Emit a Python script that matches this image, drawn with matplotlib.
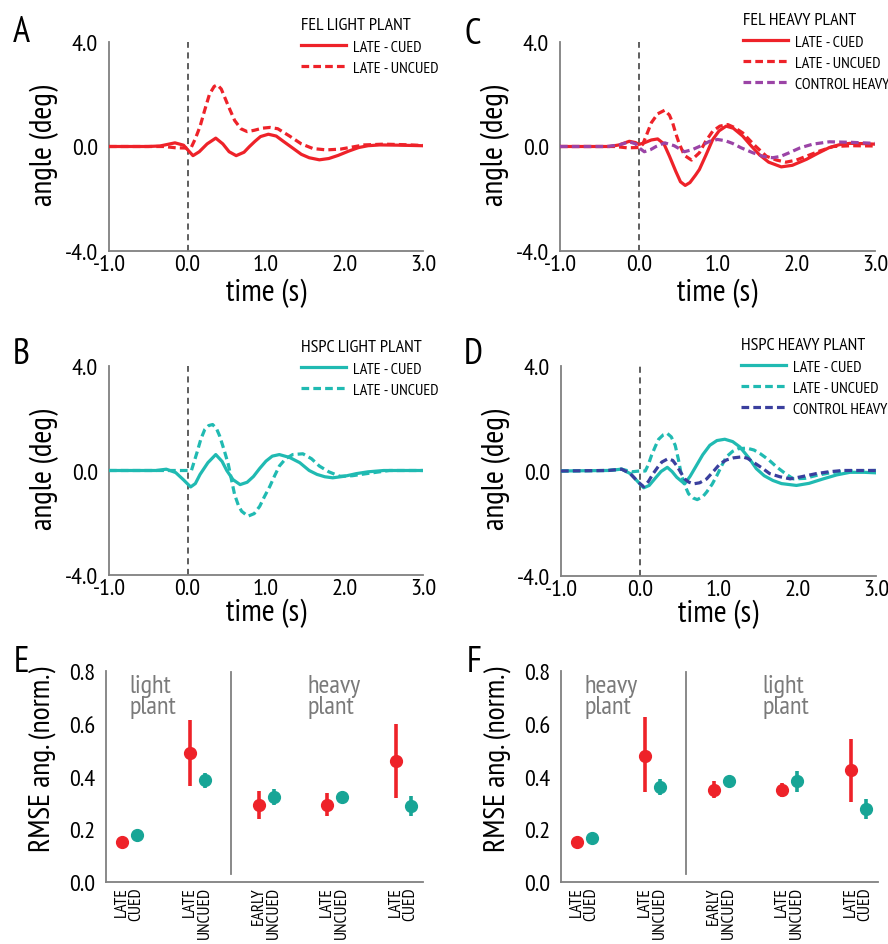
import matplotlib
matplotlib.use("Agg")
import matplotlib.pyplot as plt
from matplotlib import font_manager as fm
import numpy as np

_avail = {f.name for f in fm.fontManager.ttflist}
FONT = 'DejaVu Sans'
for cand in ['PT Sans Narrow', 'Roboto Condensed', 'Fira Sans Condensed', 'Open Sans Condensed',
             'Archivo Narrow', 'Encode Sans Condensed', 'Liberation Sans Narrow',
             'Barlow Semi Condensed', 'Asap Condensed', 'IBM Plex Sans Condensed']:
    if cand in _avail:
        FONT = cand
        break
plt.rcParams['font.family'] = [FONT, 'DejaVu Sans']

# ---------------- data ----------------
A_t_cued = [-1.0, -0.5, -0.35, -0.16, -0.05, 0.0, 0.07, 0.15, 0.25, 0.36, 0.45, 0.53, 0.62, 0.72, 0.79, 0.86, 0.93, 1.03, 1.13, 1.22, 1.34, 1.45, 1.55, 1.68, 1.8, 1.92, 2.05, 2.18, 2.3, 2.45, 2.7, 3.0]
A_cued = [0, 0, 0.02, 0.14, 0.05, -0.12, -0.35, -0.2, 0.1, 0.32, 0.1, -0.2, -0.35, -0.22, 0.0, 0.2, 0.38, 0.47, 0.4, 0.2, -0.06, -0.3, -0.43, -0.51, -0.46, -0.34, -0.18, -0.04, 0.03, 0.06, 0.05, 0.03]
A_t_uncued = [-1.0, -0.3, -0.15, 0.0, 0.05, 0.1, 0.16, 0.22, 0.28, 0.34, 0.38, 0.43, 0.52, 0.6, 0.68, 0.76, 0.85, 0.95, 1.05, 1.15, 1.3, 1.45, 1.6, 1.77, 1.95, 2.1, 2.25, 2.5, 2.75, 3.0]
A_uncued = [0, 0, -0.05, -0.06, -0.02, 0.3, 0.77, 1.4, 2.0, 2.3, 2.36, 2.2, 1.55, 1.0, 0.68, 0.57, 0.62, 0.7, 0.73, 0.68, 0.4, 0.1, -0.08, -0.13, -0.1, -0.02, 0.06, 0.09, 0.07, 0.04]

B_t_cued = [-1.0, -0.4, -0.27, -0.15, -0.05, 0.04, 0.1, 0.16, 0.26, 0.36, 0.44, 0.5, 0.58, 0.67, 0.76, 0.84, 0.92, 1.0, 1.08, 1.17, 1.3, 1.43, 1.55, 1.65, 1.75, 1.85, 2.0, 2.15, 2.3, 2.5, 3.0]
B_cued = [0, 0, 0.05, -0.08, -0.36, -0.63, -0.5, -0.15, 0.3, 0.61, 0.35, 0.0, -0.35, -0.54, -0.45, -0.23, 0.08, 0.36, 0.55, 0.61, 0.5, 0.3, 0.0, -0.15, -0.24, -0.28, -0.22, -0.12, -0.05, 0.0, 0.0]
B_t_uncued = [-1.0, 0.0, 0.05, 0.12, 0.17, 0.22, 0.27, 0.32, 0.37, 0.41, 0.47, 0.52, 0.56, 0.6, 0.65, 0.69, 0.77, 0.85, 0.92, 0.98, 1.05, 1.11, 1.17, 1.25, 1.34, 1.47, 1.58, 1.68, 1.8, 1.94, 2.1, 2.28, 2.57, 3.0]
B_uncued = [0, 0, 0.0, 0.68, 1.2, 1.57, 1.72, 1.76, 1.6, 1.32, 0.75, 0.23, -0.35, -0.92, -1.35, -1.56, -1.75, -1.65, -1.37, -1.0, -0.6, -0.2, 0.17, 0.45, 0.61, 0.64, 0.45, 0.17, -0.05, -0.22, -0.2, -0.12, 0.0, 0.0]

C_t_cued = [-1.0, -0.37, -0.25, -0.12, -0.04, 0.0, 0.07, 0.16, 0.24, 0.32, 0.39, 0.47, 0.53, 0.59, 0.65, 0.72, 0.77, 0.85, 0.94, 1.02, 1.11, 1.2, 1.32, 1.42, 1.53, 1.65, 1.81, 1.95, 2.13, 2.28, 2.42, 2.55, 2.68, 2.85, 3.0]
C_cued = [0, 0, 0.06, 0.2, 0.15, 0.08, 0.14, 0.25, 0.29, 0.1, -0.37, -0.95, -1.35, -1.49, -1.38, -1.1, -0.88, -0.35, 0.27, 0.6, 0.78, 0.7, 0.4, 0.05, -0.31, -0.6, -0.78, -0.72, -0.49, -0.25, -0.04, 0.07, 0.12, 0.11, 0.09]
C_t_uncued = [-1.0, -0.3, -0.15, 0.0, 0.05, 0.1, 0.16, 0.24, 0.33, 0.39, 0.43, 0.47, 0.51, 0.58, 0.67, 0.77, 0.85, 0.94, 1.03, 1.13, 1.22, 1.32, 1.47, 1.62, 1.75, 1.87, 2.0, 2.13, 2.3, 2.47, 2.7, 3.0]
C_uncued = [0, 0, -0.05, -0.04, 0.08, 0.45, 0.91, 1.25, 1.39, 1.2, 0.91, 0.5, 0.14, -0.34, -0.52, -0.24, 0.2, 0.59, 0.78, 0.84, 0.72, 0.52, 0.05, -0.37, -0.52, -0.6, -0.52, -0.37, -0.17, 0.0, 0.03, 0.02]
C_t_control = [-1.0, -0.4, -0.25, -0.12, -0.04, 0.0, 0.07, 0.15, 0.22, 0.33, 0.45, 0.58, 0.68, 0.77, 0.9, 1.0, 1.1, 1.19, 1.3, 1.45, 1.58, 1.7, 1.8, 1.91, 2.05, 2.21, 2.42, 2.7, 3.0]
C_control = [0, 0, 0.06, 0.18, 0.1, -0.04, -0.2, -0.12, 0.0, 0.14, 0.03, -0.2, -0.12, 0.0, 0.2, 0.27, 0.22, 0.12, -0.05, -0.24, -0.38, -0.43, -0.38, -0.24, -0.05, 0.09, 0.18, 0.16, 0.12]

D_t_cued = [-1.0, -0.4, -0.23, -0.12, -0.02, 0.05, 0.12, 0.19, 0.27, 0.35, 0.41, 0.47, 0.57, 0.64, 0.72, 0.8, 0.89, 0.98, 1.08, 1.18, 1.27, 1.38, 1.48, 1.58, 1.69, 1.8, 1.99, 2.15, 2.33, 2.5, 2.67, 2.85, 3.0]
D_cued = [0, 0.02, 0.07, -0.1, -0.42, -0.64, -0.55, -0.3, -0.02, 0.14, -0.02, -0.24, -0.49, -0.2, 0.21, 0.62, 0.98, 1.16, 1.21, 1.12, 0.92, 0.52, 0.09, -0.18, -0.36, -0.48, -0.55, -0.47, -0.3, -0.15, -0.05, -0.05, -0.07]
D_t_uncued = [-1.0, -0.4, -0.23, -0.1, 0.0, 0.07, 0.11, 0.15, 0.2, 0.24, 0.3, 0.35, 0.4, 0.45, 0.49, 0.53, 0.58, 0.62, 0.68, 0.73, 0.8, 0.85, 0.92, 0.98, 1.04, 1.1, 1.18, 1.25, 1.36, 1.45, 1.53, 1.64, 1.74, 1.85, 1.95, 2.1, 2.24, 2.4, 2.58, 3.0]
D_uncued = [0, 0.02, 0.07, -0.03, 0.0, 0.0, 0.25, 0.6, 0.95, 1.21, 1.38, 1.43, 1.3, 0.98, 0.45, -0.17, -0.6, -0.87, -1.03, -1.09, -0.98, -0.8, -0.5, -0.17, 0.2, 0.54, 0.75, 0.85, 0.87, 0.8, 0.66, 0.42, 0.15, -0.1, -0.3, -0.28, -0.17, -0.08, 0.0, 0.02]
D_t_control = [-1.0, -0.4, -0.23, -0.12, -0.02, 0.05, 0.11, 0.17, 0.23, 0.28, 0.36, 0.42, 0.47, 0.52, 0.57, 0.62, 0.68, 0.76, 0.85, 0.94, 1.02, 1.1, 1.19, 1.3, 1.37, 1.44, 1.55, 1.65, 1.78, 1.91, 2.05, 2.24, 2.4, 2.58, 3.0]
D_control = [0, 0.02, 0.07, -0.1, -0.42, -0.6, -0.4, -0.1, 0.15, 0.34, 0.47, 0.4, 0.2, -0.05, -0.3, -0.42, -0.49, -0.45, -0.3, 0.0, 0.28, 0.42, 0.5, 0.54, 0.48, 0.34, 0.12, -0.1, -0.22, -0.3, -0.22, -0.1, -0.03, 0.02, 0.02]

cat_labels = ['LATE\nCUED', 'LATE\nUNCUED', 'EARLY\nUNCUED', 'LATE\nUNCUED', 'LATE\nCUED']

E_red = [0.15, 0.489, 0.292, 0.292, 0.46]
E_red_lo = [0.15, 0.364, 0.239, 0.25, 0.32]
E_red_hi = [0.15, 0.616, 0.345, 0.336, 0.60]
E_teal = [0.178, 0.387, 0.324, 0.324, 0.29]
E_teal_lo = [0.178, 0.356, 0.292, 0.311, 0.251]
E_teal_hi = [0.178, 0.415, 0.353, 0.336, 0.325]

F_red = [0.15, 0.476, 0.349, 0.349, 0.423]
F_red_lo = [0.15, 0.34, 0.317, 0.324, 0.305]
F_red_hi = [0.15, 0.626, 0.383, 0.377, 0.542]
F_teal = [0.165, 0.362, 0.383, 0.383, 0.277]
F_teal_lo = [0.165, 0.33, 0.371, 0.343, 0.239]
F_teal_hi = [0.165, 0.391, 0.394, 0.422, 0.314]

# ---------------- style ----------------
RED = '#ee2229'
TEAL = '#20bab2'
TEAL_M = '#17a596'
PURPLE = '#9b44a6'
NAVY = '#3a3f9e'
SPINE = '#808080'
GRAYTXT = '#7a7a7a'

W, H = 888, 945
fig = plt.figure(figsize=(W / 100, H / 100), dpi=100)


def add_ax(l, t, r, b):
    return fig.add_axes([l / W, 1 - b / H, (r - l) / W, (b - t) / H])


def style(ax):
    for s in ['top', 'right']:
        ax.spines[s].set_visible(False)
    for s in ['left', 'bottom']:
        ax.spines[s].set_color(SPINE)
        ax.spines[s].set_linewidth(1.3)
    ax.tick_params(length=0, labelsize=17.5)


DASH = (0, (2.4, 1.3))
LW = 2.3


def time_panel(ax, series, title, legend_pos, xlab_y):
    style(ax)
    ax.axvline(0, color='#333333', lw=1.1, ls=(0, (4, 3)), zorder=1)
    handles = []
    for t, v, c, ls, lab in series:
        h, = ax.plot(t, v, color=c, lw=LW, ls=ls, label=lab,
                     solid_joinstyle='round', dash_joinstyle='round', zorder=3)
        handles.append(h)
    ax.set_xlim(-1, 3)
    ax.set_ylim(-4, 4)
    ax.set_xticks([-1, 0, 1, 2, 3])
    ax.set_xticklabels(['-1.0', '0.0', '1.0', '2.0', '3.0'])
    ax.set_yticks([-4, 0, 4])
    ax.set_yticklabels(['-4.0', '0.0', '4.0'])
    ax.tick_params(axis='y', pad=8)
    ax.tick_params(axis='x', pad=2)
    ax.set_xlabel('time (s)', fontsize=22.5)
    ax.xaxis.label.set_va('center')
    ax.xaxis.set_label_coords(0.5, xlab_y)
    ax.set_ylabel('angle (deg)', fontsize=22.5)
    ax.yaxis.label.set_va('center')
    ax.yaxis.set_label_coords(-0.205, 0.51)
    ax.legend(handles=handles, title=title, loc='upper left',
              bbox_to_anchor=(legend_pos[0] / W, 1 - legend_pos[1] / H),
              bbox_transform=fig.transFigure, frameon=False,
              fontsize=11.5, title_fontsize=13, alignment='left',
              handlelength=2.8, handletextpad=0.45, labelspacing=0.42,
              borderpad=0, borderaxespad=0)
    return ax


axA = add_ax(109, 43, 423, 252)
time_panel(axA, [(A_t_cued, A_cued, RED, '-', 'LATE - CUED'),
                 (A_t_uncued, A_uncued, RED, DASH, 'LATE - UNCUED')],
           'FEL LIGHT PLANT', (301, 18), -0.2)

axC = add_ax(560, 43, 875, 252)
time_panel(axC, [(C_t_cued, C_cued, RED, '-', 'LATE - CUED'),
                 (C_t_uncued, C_uncued, RED, DASH, 'LATE - UNCUED'),
                 (C_t_control, C_control, PURPLE, DASH, 'CONTROL HEAVY')],
           'FEL HEAVY PLANT', (743, 13), -0.2)

axB = add_ax(109, 367, 423, 576)
time_panel(axB, [(B_t_cued, B_cued, TEAL, '-', 'LATE - CUED'),
                 (B_t_uncued, B_uncued, TEAL, DASH, 'LATE - UNCUED')],
           'HSPC LIGHT PLANT', (301, 340), -0.18)

axD = add_ax(561, 367, 876, 577)
time_panel(axD, [(D_t_cued, D_cued, TEAL, '-', 'LATE - CUED'),
                 (D_t_uncued, D_uncued, TEAL, DASH, 'LATE - UNCUED'),
                 (D_t_control, D_control, NAVY, DASH, 'CONTROL HEAVY')],
           'HSPC HEAVY PLANT', (741, 338), -0.18)


def rmse_panel(ax, red, rlo, rhi, teal, tlo, thi, left_txt, right_txt):
    style(ax)
    x = np.arange(len(cat_labels))
    off = 0.11
    ax.errorbar(x - off, red, yerr=[np.array(red) - np.array(rlo), np.array(rhi) - np.array(red)],
                fmt='o', color=RED, ms=8.5, elinewidth=2.6, capsize=0, zorder=3)
    ax.errorbar(x + off, teal, yerr=[np.array(teal) - np.array(tlo), np.array(thi) - np.array(teal)],
                fmt='o', color=TEAL_M, ms=8.5, elinewidth=2.6, capsize=0, zorder=3)
    ax.set_xlim(-0.34, 4.29)
    ax.set_ylim(0, 0.8)
    ax.set_yticks([0, 0.2, 0.4, 0.6, 0.8])
    ax.set_yticklabels(['0.0', '0.2', '0.4', '0.6', '0.8'])
    ax.tick_params(axis='y', pad=8)
    ax.set_xticks(x)
    ax.set_xticklabels(cat_labels, rotation=90, fontsize=12.5, va='top', ha='center',
                       multialignment='right', linespacing=0.9)
    ax.tick_params(axis='x', pad=3)
    ax.plot([1.48, 1.48], [0.03, 0.795], color=SPINE, lw=1.3, zorder=1)
    ax.text(0.0, 0.79, left_txt, color=GRAYTXT, fontsize=19, va='top', ha='left',
            linespacing=0.9)
    ax.text(2.6, 0.79, right_txt, color=GRAYTXT, fontsize=19, va='top', ha='left',
            linespacing=0.9)
    ax.set_ylabel('RMSE ang. (norm.)', fontsize=21.5)
    ax.yaxis.label.set_va('center')
    ax.yaxis.set_label_coords(-0.2, 0.585)


axE = add_ax(106, 672, 423, 883)
rmse_panel(axE, E_red, E_red_lo, E_red_hi, E_teal, E_teal_lo, E_teal_hi,
           'light\nplant', 'heavy\nplant')
axF = add_ax(561, 672, 878, 883)
rmse_panel(axF, F_red, F_red_lo, F_red_hi, F_teal, F_teal_lo, F_teal_hi,
           'heavy\nplant', 'light\nplant')

# panel letters
for letter, (px, py) in {'A': (21, 33), 'C': (473, 34), 'B': (21, 355),
                         'D': (473, 354), 'E': (21, 663), 'F': (474, 663)}.items():
    fig.text(px / W, 1 - py / H, letter, fontsize=26, ha='center', va='center')

fig.savefig('out.png', dpi=100)
